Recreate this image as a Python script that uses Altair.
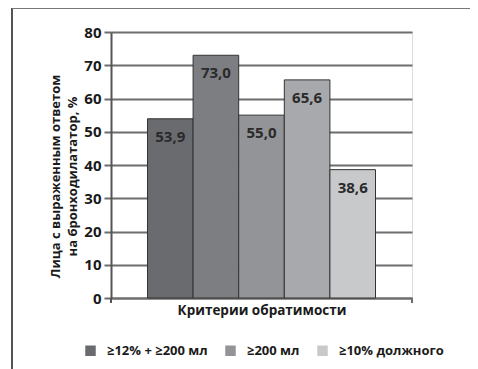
import altair as alt
import pandas as pd

criteria = ["≥12% + ≥200 мл", "≥12%", "≥200 мл", "≥15%", "≥10% должного"]
values = [53.9, 73.0, 55.0, 65.6, 38.6]
colors = ["#6a6b6f", "#7d7e82", "#939498", "#a8a9ad", "#c8c9cb"]
y_ticks = [0, 10, 20, 30, 40, 50, 60, 70, 80]

FONT = "Open Sans"

df = pd.DataFrame({
    "crit": criteria,
    "value": values,
    "label": [f"{v:.1f}".replace(".", ",") for v in values],
})

x_enc = alt.X("crit:N", sort=criteria,
              scale=alt.Scale(paddingInner=0, paddingOuter=0.8),
              axis=alt.Axis(title="Критерии обратимости", labels=False, ticks=False,
                            domain=True, domainColor="#6d6d6d", domainWidth=2,
                            titleFont=FONT, titleFontSize=13.5, titleFontWeight="bold",
                            titleColor="#1a1a1a", titlePadding=5))
y_enc = alt.Y("value:Q", scale=alt.Scale(domain=[0, 80], nice=False),
              axis=alt.Axis(values=y_ticks, labelOverlap=False,
                            title=["Лица с выраженным ответом", "на бронходилататор, %"],
                            grid=True, gridColor="#6d6d6d", gridWidth=2,
                            tickColor="#6d6d6d", tickWidth=2, tickSize=7,
                            domainColor="#555555", domainWidth=2,
                            labelFont=FONT, labelFontSize=15, labelFontWeight="bold",
                            labelColor="#1a1a1a", labelPadding=3,
                            titleFont=FONT, titleFontSize=13, titleFontWeight="bold",
                            titleColor="#1a1a1a", titlePadding=4, titleLineHeight=17,
                            titleY=144))

color_enc = alt.Color("crit:N",
                      scale=alt.Scale(domain=criteria, range=colors),
                      legend=alt.Legend(title=None, orient="none", legendX=-27, legendY=312,
                                        columns=3, symbolType="square", symbolSize=110,
                                        symbolStrokeWidth=0, columnPadding=16, rowPadding=12,
                                        labelFont=FONT, labelFontSize=13, labelFontWeight="bold",
                                        labelColor="#1a1a1a", labelOffset=10, padding=0))

base = alt.Chart(df).encode(x=x_enc, y=y_enc)

bars = base.mark_bar(stroke="#333333", strokeWidth=1).encode(color=color_enc)

labels = base.mark_text(baseline="top", dy=11, font=FONT, fontSize=15,
                        fontWeight="bold", color="#2a2a2a").encode(text="label:N")

frame_left = alt.Chart(df).mark_rule(color="#555555", strokeWidth=1.5).encode(
    x=alt.value(-99), y=alt.value(-24), y2=alt.value(400))
frame_top = alt.Chart(df).mark_rule(color="#777777", strokeWidth=2).encode(
    x=alt.value(-99), x2=alt.value(400), y=alt.value(-24))
end_left = alt.Chart(df).mark_rule(color="#555555", strokeWidth=2).encode(
    x=alt.value(0), y=alt.value(266), y2=alt.value(271))
end_right = alt.Chart(df).mark_rule(color="#6d6d6d", strokeWidth=2).encode(
    x=alt.value(301), y=alt.value(266), y2=alt.value(271))

chart = alt.layer(bars, labels, frame_left, frame_top, end_left, end_right).properties(
    width=301, height=266,
    autosize=alt.AutoSizeParams(type="none"),
    padding={"left": 103, "top": 24, "right": 58, "bottom": 80},
).configure_view(stroke=None).configure(background="white")

chart.save("out.html", embed_options={"renderer": "svg", "actions": False})
